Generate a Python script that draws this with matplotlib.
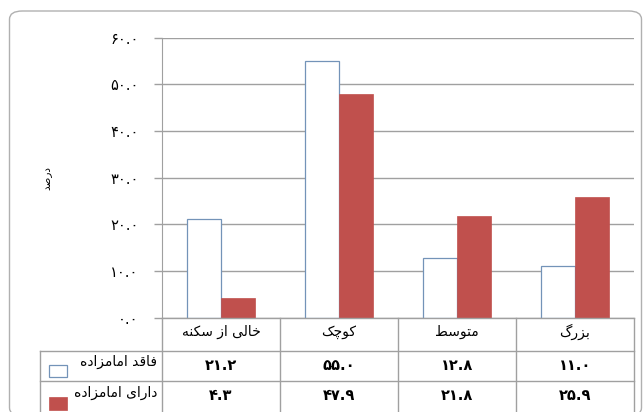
import matplotlib
matplotlib.use('Agg')
import matplotlib.pyplot as plt
from matplotlib.patches import FancyBboxPatch, Rectangle

plt.rcParams['font.family'] = ['DejaVu Sans']

# data
categories = ['خالی از سکنه', 'کوچک', 'متوسط', 'بزرگ']
series_names = ['فاقد امامزاده', 'دارای امامزاده']
without_shrine = [21.2, 55.0, 12.8, 11.0]
with_shrine = [4.3, 47.9, 21.8, 25.9]
y_ticks = [0, 10, 20, 30, 40, 50, 60]
y_label = 'درصد'

FILL_1 = 'white'
EDGE_1 = '#7393B8'
FILL_2 = '#C0504D'
GRID = '#A0A0A0'

# arabic letter forms: isolated, final, initial, medial (None = joins right only)
FORMS = {
    'ا': ('\uFE8D', '\uFE8E', None, None),
    'ب': ('\uFE8F', '\uFE90', '\uFE91', '\uFE92'),
    'ت': ('\uFE95', '\uFE96', '\uFE97', '\uFE98'),
    'خ': ('\uFEA5', '\uFEA6', '\uFEA7', '\uFEA8'),
    'د': ('\uFEA9', '\uFEAA', None, None),
    'ر': ('\uFEAD', '\uFEAE', None, None),
    'ز': ('\uFEAF', '\uFEB0', None, None),
    'س': ('\uFEB1', '\uFEB2', '\uFEB3', '\uFEB4'),
    'ص': ('\uFEB9', '\uFEBA', '\uFEBB', '\uFEBC'),
    'ط': ('\uFEC1', '\uFEC2', '\uFEC3', '\uFEC4'),
    'ف': ('\uFED1', '\uFED2', '\uFED3', '\uFED4'),
    'ق': ('\uFED5', '\uFED6', '\uFED7', '\uFED8'),
    'ل': ('\uFEDD', '\uFEDE', '\uFEDF', '\uFEE0'),
    'م': ('\uFEE1', '\uFEE2', '\uFEE3', '\uFEE4'),
    'ن': ('\uFEE5', '\uFEE6', '\uFEE7', '\uFEE8'),
    'ه': ('\uFEE9', '\uFEEA', '\uFEEB', '\uFEEC'),
    'و': ('\uFEED', '\uFEEE', None, None),
    'ی': ('\uFBFC', '\uFBFD', '\uFBFE', '\uFBFF'),
    'ک': ('\uFB8E', '\uFB8F', '\uFB90', '\uFB91'),
    'گ': ('\uFB92', '\uFB93', '\uFB94', '\uFB95'),
    'چ': ('\uFB7A', '\uFB7B', '\uFB7C', '\uFB7D'),
}


def fa(text):
    """shape persian letters and put them in visual (left to right) order"""
    out = []
    for i, c in enumerate(text):
        if c not in FORMS:
            out.append(c)
            continue
        prev = text[i - 1] if i > 0 else None
        nxt = text[i + 1] if i + 1 < len(text) else None
        iso, fin, ini, med = FORMS[c]
        join_prev = prev in FORMS and FORMS[prev][2] is not None
        join_next = nxt in FORMS and ini is not None
        if join_prev and join_next:
            out.append(med)
        elif join_prev:
            out.append(fin)
        elif join_next:
            out.append(ini)
        else:
            out.append(iso)
    return ''.join(reversed(out))


def fa_num(v):
    return f'{v:.1f}'.translate(str.maketrans('0123456789', '۰۱۲۳۴۵۶۷۸۹'))


W, H = 644, 412
fig = plt.figure(figsize=(W / 100, H / 100), dpi=100)

# rounded outer frame
fig.add_artist(FancyBboxPatch((9.5 / W, -4 / H), 632 / W, 405 / H,
                              boxstyle='round,pad=0,rounding_size=0.02',
                              transform=fig.transFigure, fc='none',
                              ec='#B0B0B0', lw=1.0))

# plot area
ax = fig.add_axes([162 / W, 94.3 / H, 472 / W, 280.2 / H])
x = list(range(len(categories)))
bw = 0.288
ax.bar([i - bw / 2 for i in x], without_shrine, bw, color=FILL_1,
       edgecolor=EDGE_1, linewidth=0.9, zorder=3)
ax.bar([i + bw / 2 for i in x], with_shrine, bw, color=FILL_2,
       edgecolor=FILL_2, linewidth=0.5, zorder=3)
ax.set_xlim(-0.5, len(categories) - 0.5)
ax.set_ylim(0, 60)
ax.set_yticks(y_ticks)
ax.set_yticklabels([fa_num(v) for v in y_ticks], fontsize=10.5)
ax.tick_params(axis='y', length=6, width=1, color=GRID, pad=11)
ax.set_xticks([])
ax.grid(axis='y', color=GRID, lw=1, zorder=0)
for s in ['top', 'right', 'bottom']:
    ax.spines[s].set_visible(False)
ax.spines['left'].set_color(GRID)
ax.text(-0.243, 0.5, fa(y_label), transform=ax.transAxes, rotation=90,
        fontsize=7.5, ha='center', va='center')

# data table under the chart (y in pixels from the bottom)
tab = fig.add_axes([162 / W, 0, 472 / W, 94.3 / H], sharex=ax)
tab.set_ylim(0, 94.3)
tab.axis('off')
leg_left = -0.5 - 122 / 118
kw = dict(color=GRID, lw=1, clip_on=False)
tab.plot([-0.5, 3.5], [94.3, 94.3], **kw)
tab.plot([leg_left, 3.5], [61, 61], **kw)
tab.plot([leg_left, 3.5], [31, 31], **kw)
tab.plot([-0.5, -0.5], [0, 94.3], **kw)
tab.plot([leg_left, leg_left], [0, 61], **kw)
for i in x:
    tab.plot([i + 0.5, i + 0.5], [0, 94.3], **kw)

for i, cat in enumerate(categories):
    tab.text(i, 80, fa(cat), ha='center', va='center', fontsize=10)
    tab.text(i, 46, fa_num(without_shrine[i]), ha='center', va='center',
             fontsize=10.5, fontweight='bold')
    tab.text(i, 16, fa_num(with_shrine[i]), ha='center', va='center',
             fontsize=10.5, fontweight='bold')

px = 4 / 472
sw = 18 * px
tab.add_patch(Rectangle((leg_left + 9 * px, 35), sw, 12, fc=FILL_1,
                        ec=EDGE_1, lw=0.9, clip_on=False))
tab.add_patch(Rectangle((leg_left + 9 * px, 2), sw, 13, fc=FILL_2,
                        ec=FILL_2, lw=0.5, clip_on=False))
tab.text(-0.5 - 5 * px, 50, fa(series_names[0]), ha='right',
         va='center', fontsize=10, clip_on=False)
tab.text(-0.5 - 5 * px, 19, fa(series_names[1]), ha='right',
         va='center', fontsize=10, clip_on=False)

fig.savefig('out.png', dpi=100)
